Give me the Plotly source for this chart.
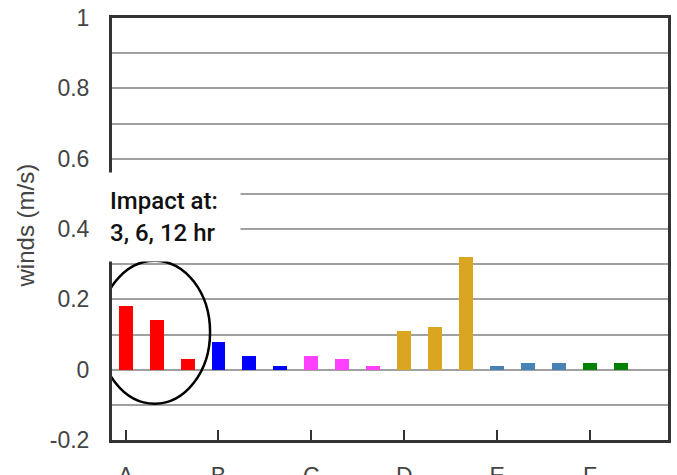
import plotly.graph_objects as go

# Wind impact per site, three lead times each (3, 6, 12 hr)
categories = ["A", "B", "C", "D", "E", "F"]
impact_values = [
    [0.18, 0.14, 0.03],
    [0.08, 0.04, 0.01],
    [0.04, 0.03, 0.01],
    [0.11, 0.12, 0.32],
    [0.01, 0.02, 0.02],
    [0.02, 0.02],
]
bar_colors = ["#ff0000", "#0000ff", "#ff40ff", "#daa520", "#4682b4", "#008000"]

y_ticks = [-0.2, -0.1, 0, 0.1, 0.2, 0.3, 0.4, 0.5, 0.6, 0.7, 0.8, 0.9, 1.0]
y_tick_text = ["-0.2", "", "0", "", "0.2", "", "0.4", "", "0.6", "", "0.8", "", "1"]

SLOTS = 3  # bars per site
fig = go.Figure()
for i, (cat, vals, col) in enumerate(zip(categories, impact_values, bar_colors)):
    fig.add_trace(go.Bar(
        x=[i * SLOTS + k for k in range(len(vals))],
        y=vals,
        width=0.45,
        marker=dict(color=col, line=dict(width=0)),
        name=cat,
        showlegend=False,
    ))

axis_font = dict(family="Liberation Sans, Arial, sans-serif", size=23, color="#444444")

fig.update_layout(
    width=677,
    height=475,
    margin=dict(l=112, r=9, t=18, b=35),
    paper_bgcolor="white",
    plot_bgcolor="white",
    bargap=0,
    xaxis=dict(
        range=[-0.44, 17.52],
        tickvals=[i * SLOTS for i in range(len(categories))],
        ticktext=categories,
        ticks="inside",
        ticklen=10,
        tickwidth=2,
        tickcolor="#333333",
        showgrid=False,
        zeroline=False,
        showline=True,
        linecolor="#333333",
        linewidth=3,
        mirror=True,
        tickfont=axis_font,
        ticklabelstandoff=13,
        automargin=False,
    ),
    yaxis=dict(
        range=[-0.2, 1.0],
        tickvals=y_ticks,
        ticktext=y_tick_text,
        ticks="",
        showgrid=True,
        gridcolor="#a0a0a0",
        gridwidth=2,
        zeroline=False,
        showline=True,
        linecolor="#333333",
        linewidth=3,
        mirror=True,
        tickfont=axis_font,
        ticklabelstandoff=15,
        automargin=False,
    ),
    font=axis_font,
)

# y-axis title
fig.add_annotation(
    text="winds (m/s)",
    xref="paper", yref="y",
    x=-0.1565, y=0.41,
    textangle=-90,
    showarrow=False,
    xanchor="center", yanchor="middle",
    font=dict(family="Liberation Sans, Arial, sans-serif", size=24, color="#444444"),
)

# callout box with the lead-time note
fig.add_annotation(
    text="Impact at:<br>3, 6, 12 hr",
    xref="x", yref="y",
    x=1.566, y=0.435,
    showarrow=False,
    xanchor="center", yanchor="middle",
    align="left",
    width=128,
    height=84,
    bgcolor="white",
    borderpad=2,
    font=dict(family="Roboto, sans-serif", size=24, color="#111111", weight=500),
)

# ellipse around the site A bars
fig.add_shape(
    type="circle",
    xref="x", yref="y",
    x0=-0.856, x1=2.728,
    y0=-0.0967, y1=0.31,
    line=dict(color="black", width=2.5),
    layer="above",
)

fig.write_html("out.html")
